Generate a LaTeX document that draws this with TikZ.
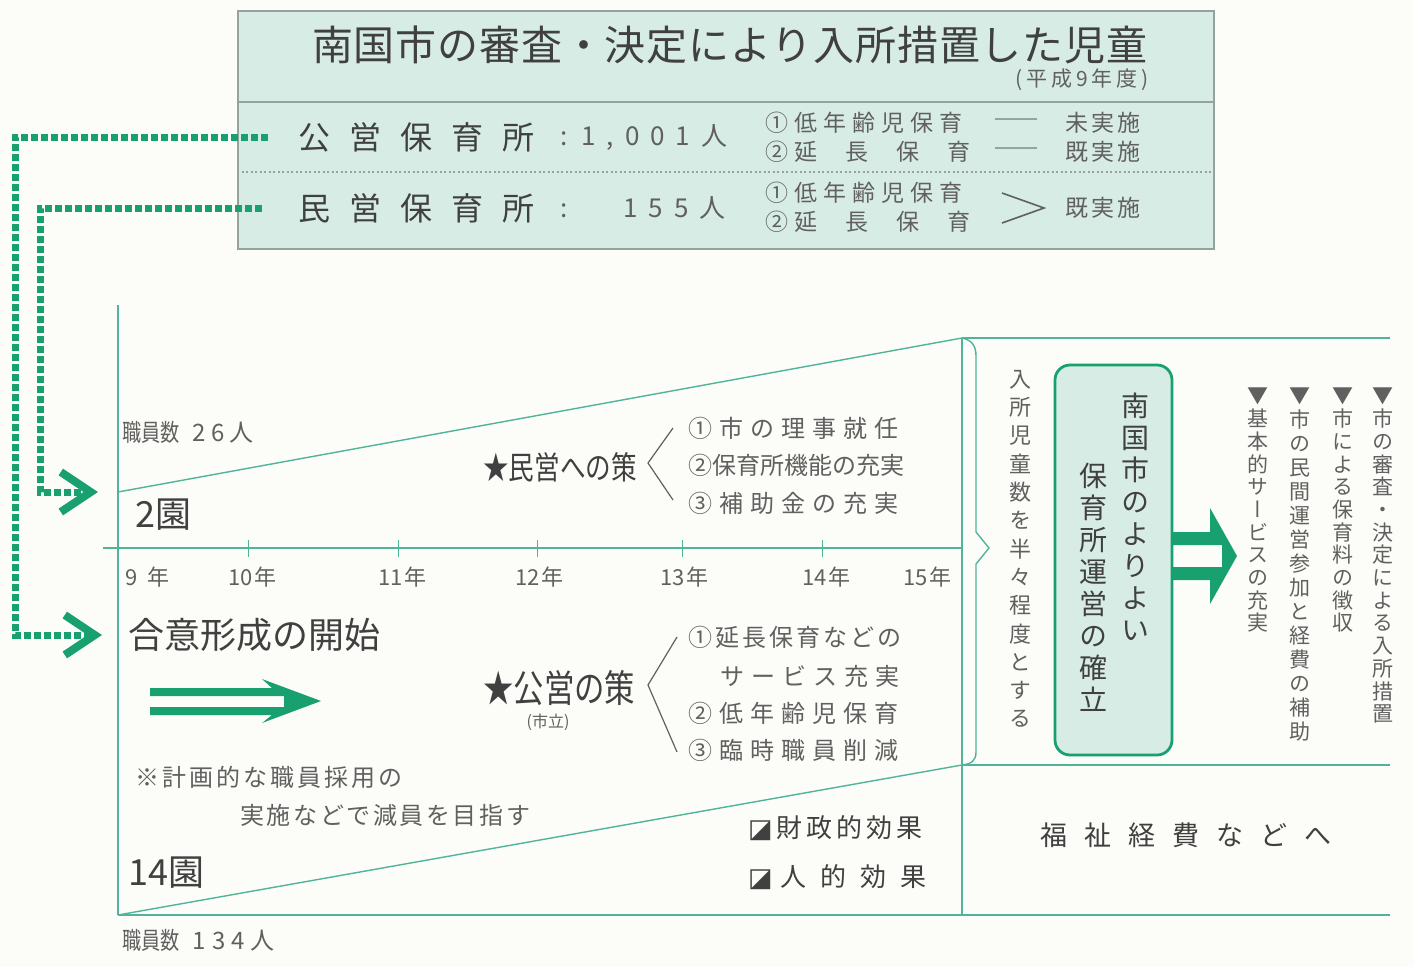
\documentclass[tikz,border=0pt]{standalone}
\usepackage{fontspec}
\setmainfont{Noto Sans CJK JP}
\newfontfamily\jpnarrow[FakeStretch=0.8]{Noto Sans CJK JP}
\newfontfamily\jptate[RawFeature=+vert]{Noto Sans CJK JP}
\newfontfamily\symfont{DejaVu Sans}
\usetikzlibrary{arrows.meta}
\definecolor{hoikugreen}{RGB}{24,160,112}
\definecolor{senteal}{RGB}{80,180,155}
\definecolor{boxfill}{RGB}{216,236,230}
\definecolor{boxgray}{RGB}{150,162,160}
\definecolor{moji}{RGB}{64,64,64}
\definecolor{usumoji}{RGB}{96,96,96}
\definecolor{kami}{RGB}{252,252,248}

\newcommand\fsz[1]{\fontsize{#1}{#1}\selectfont}
% letter spacing, char by char
\def\sploop#1{\ifx\relax#1\else#1\hskip\spgap\expandafter\sploop\fi}
\newcommand\spaced[2]{\def\spgap{#1}\sploop#2\relax}
% vertical writing, one char per line
\def\tateloop#1{\ifx\relax#1\else\hbox to 1em{\hss#1\hss}\expandafter\tateloop\fi}
\newcommand\tate[2]{\vbox{\baselineskip=#1\lineskip=0pt\lineskiplimit=-100pt\jptate\tateloop#2\relax}}

\tikzset{
  txt/.style={inner sep=0pt, anchor=west, text=moji},
  lighttxt/.style={txt, text=usumoji},
  dotlink/.style={draw=hoikugreen, line width=7pt, dash pattern=on 7pt off 3pt,
    -{Straight Barb[length=30pt,width=40pt,line width=8pt]}},
  thinrule/.style={draw=senteal, line width=1.4pt},
  thickrule/.style={draw=senteal, line width=2.6pt},
  yearlbl/.style={lighttxt, font=\fsz{22}},
}

\begin{document}
\begin{tikzpicture}[x=1pt,y=-1pt]
\useasboundingbox[fill=kami] (0,0) rectangle (1414,967);

% top table
\node[draw=boxgray, line width=2pt, fill=boxfill, minimum width=976pt, minimum height=238pt,
  anchor=north west, inner sep=0pt] (table) at (237,10) {};
\draw[boxgray, line width=1.8pt] ([yshift=-92pt]table.north west) -- ([yshift=-92pt]table.north east);
\draw[boxgray, line width=1.5pt, dash pattern=on 2pt off 2.5pt]
  ([yshift=-162pt]table.north west) -- ([yshift=-162pt]table.north east);

\node[txt, font=\fsz{41}] (title) at (312,45) {\spaced{0.8pt}{南国市の審査・決定により入所措置した児童}};
\node[lighttxt, font=\fsz{21}] (heisei) at (1015,80) {\spaced{4pt}{(平成9年度)}};

\node[txt, font=\fsz{32}] (kouei) at (298,137) {\spaced{19pt}{公営保育所}};
\node[lighttxt, font=\fsz{26}] (kazu1) at (560,137) {:\hskip14pt\spaced{11pt}{1,001人}};
\node[txt, font=\fsz{32}] (minei) at (298,208) {\spaced{19pt}{民営保育所}};
\node[lighttxt, font=\fsz{26}] (kazu2) at (560,208) {:\hskip56pt\spaced{11pt}{155人}};

\node[lighttxt, font=\fsz{23}] (tei1) at (765,123) {\spaced{6pt}{①低年齢児保育}};
\node[lighttxt, font=\fsz{23}] (en1) at (765,152) {\spaced{6pt}{②}\spaced{28pt}{延長保}育};
\node[txt, font=\fsz{21}] (sen1) at (995,123) {──};
\node[txt, font=\fsz{21}] (sen2) at (995,152) {──};
\node[lighttxt, font=\fsz{23}] (mi) at (1065,123) {\spaced{3pt}{未実施}};
\node[lighttxt, font=\fsz{23}] (ki1) at (1065,152) {\spaced{3pt}{既実施}};
\node[lighttxt, font=\fsz{23}] (tei2) at (765,193) {\spaced{6pt}{①低年齢児保育}};
\node[lighttxt, font=\fsz{23}] (en2) at (765,222) {\spaced{6pt}{②}\spaced{28pt}{延長保}育};
\draw[usumoji, line width=1.6pt] (1002,193) -- (1044,208) -- (1002,223);
\node[lighttxt, font=\fsz{23}] (ki2) at (1065,208) {\spaced{3pt}{既実施}};

% time line
\coordinate (upstart) at (118,492);
\coordinate (upend) at (962,338);
\coordinate (lowstart) at (118,915);
\coordinate (lowend) at (962,765);
\draw[thinrule] (118,305) -- (lowstart);
\draw[thickrule] (103,548) -- (962,548);
\draw[thinrule] (upstart) -- (upend);
\draw[thinrule] (lowstart) -- (lowend);
\draw[thickrule] (lowstart) -- (1390,915);
\draw[thinrule, line width=2pt] (upend) -- (1390,338);
\draw[thinrule, line width=2pt] (lowend) -- (1390,765);
\draw[thinrule] (upend) -- (962,915);
\draw[thinrule] (upend) .. controls (972,340) and (976,346) .. (976,356) -- (976,532) -- (989,548)
  -- (976,564) -- (976,752) .. controls (976,760) and (972,764) .. (lowend);
\foreach \x in {248,398,537,682,822}
  \draw[thinrule, line width=1pt] (\x,540) -- (\x,557);
\foreach \x/\n/\g in {125/9/10pt,228/10/2pt,378/11/2pt,515/12/2pt,660/13/2pt,802/14/2pt,903/15/2pt}
  \node[yearlbl] (y\n) at (\x,577) {\n\hskip\g 年};

\node[lighttxt, font=\fsz{24}] (shokuin1) at (122,432) {{\jpnarrow 職員数}\hskip13pt\spaced{5pt}{26人}};
\node[lighttxt, font=\fsz{24}] (shokuin2) at (122,940) {{\jpnarrow 職員数}\hskip13pt\spaced{6pt}{134人}};
\node[txt, font=\fsz{36}] (nien) at (135,515) {2園};
\node[txt, font=\fsz{36}] (juyon) at (128,873) {14園};
\node[txt, font=\fsz{36}] (goui) at (128,635) {合意形成の開始};
\node[lighttxt, font=\fsz{24}] (chui1) at (135,777) {\spaced{3pt}{※計画的な職員採用の}};
\node[lighttxt, font=\fsz{24}] (chui2) at (240,815) {\spaced{2.6pt}{実施などで減員を目指す}};

% links from the table
\draw[dotlink] ([xshift=-30pt]kouei.west) -- ++(-253,0) |- ([xshift=-26pt]goui.west);
\draw[dotlink] ([xshift=-36pt]minei.west) -- ++(-222,0) |- ([xshift=-20pt]upstart);

% double arrow
\fill[hoikugreen] (262,679) -- (321,701) -- (262,723) -- (272,715) -- (150,715) -- (150,707)
  -- (284,707) -- (284,696) -- (150,696) -- (150,688) -- (272,688) -- cycle;

% measures
\node[txt, font=\jpnarrow\fsz{32}] (minsaku) at (483,467) {★民営への策};
\draw[usumoji, line width=1.2pt] (673,428) -- (648,463) -- (673,500);
\node[lighttxt, font=\fsz{24}] (m1) at (688,428) {\spaced{7pt}{①市の理事就任}};
\node[lighttxt, font=\fsz{24}] (m2) at (688,465) {②保育所機能の充実};
\node[lighttxt, font=\fsz{24}] (m3) at (688,503) {\spaced{7pt}{③補助金の充実}};

\node[txt, font=\jpnarrow\fsz{38}] (kousaku) at (483,688) {★公営の策};
\node[lighttxt, font=\fsz{16}, anchor=center] (shiritsu) at (548,722) {(市立)};
\draw[usumoji, line width=1.2pt] (677,637) -- (648,685) -- (677,752);
\node[lighttxt, font=\fsz{24}] (k1) at (688,637) {\spaced{3pt}{①延長保育などの}};
\node[lighttxt, font=\fsz{24}] (k1b) at (720,676) {\spaced{7pt}{サービス充実}};
\node[lighttxt, font=\fsz{24}] (k2) at (688,713) {\spaced{7pt}{②低年齢児保育}};
\node[lighttxt, font=\fsz{24}] (k3) at (688,750) {\spaced{7pt}{③臨時職員削減}};

\node[txt, font=\fsz{26}] (zaisei) at (748,828) {{\symfont ◪}\hskip4pt\spaced{4pt}{財政的効果}};
\node[txt, font=\fsz{26}] (jinteki) at (748,877) {{\symfont ◪}\hskip8pt\spaced{14pt}{人的効果}};

% right side
\node[lighttxt, anchor=north, font=\fsz{22}] (hanhan) at (1020,370) {\tate{28.3pt}{入所児童数を半々程度とする}};
\node[draw=hoikugreen, line width=2.8pt, fill=boxfill, rounded corners=15pt,
  minimum width=117pt, minimum height=390pt, inner sep=0pt] (kakuritsu) at (1113.5,560) {};
\node[txt, anchor=north, font=\fsz{28}] (nangoku) at (1135,393) {\tate{32pt}{南国市のよりよい}};
\node[txt, anchor=north, font=\fsz{28}] (unei) at (1093,463) {\tate{32pt}{保育所運営の確立}};
\fill[hoikugreen] (1210,508) -- (1237,556) -- (1210,604) -- (1210,580) -- (1172,580) -- (1172,567)
  -- (1222,567) -- (1222,545) -- (1172,545) -- (1172,532) -- (1210,532) -- cycle;

\node[lighttxt, anchor=north, font=\fsz{21}] (item1) at (1383,388) {\tate{22.7pt}{▼市の審査・決定による入所措置}};
\node[lighttxt, anchor=north, font=\fsz{21}] (item2) at (1343,388) {\tate{22.7pt}{▼市による保育料の徴収}};
\node[lighttxt, anchor=north, font=\fsz{21}] (item3) at (1300,388) {\tate{24pt}{▼市の民間運営参加と経費の補助}};
\node[lighttxt, anchor=north, font=\fsz{21}] (item4) at (1258,388) {\tate{22.7pt}{▼基本的サービスの充実}};

\node[txt, font=\fsz{27}] (fukushi) at (1040,835) {\spaced{17pt}{福祉経費などへ}};
\end{tikzpicture}
\end{document}
